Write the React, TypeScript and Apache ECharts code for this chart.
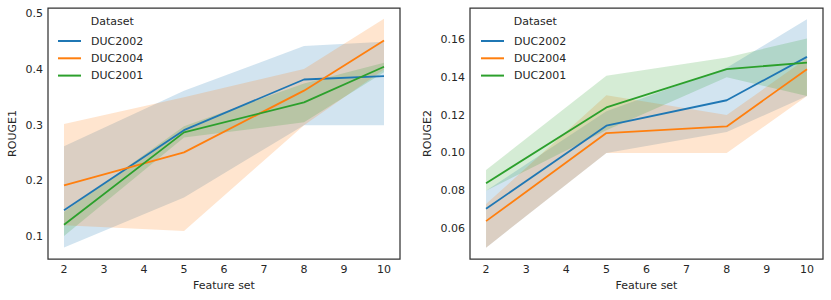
import React, { useEffect, useRef } from "react";
import * as echarts from "echarts";

// Feature sets (x values)
const featureSets = [2, 5, 8, 10];
const xTicks = [2, 3, 4, 5, 6, 7, 8, 9, 10];
const datasets = ["DUC2002", "DUC2004", "DUC2001"];
const colors = ["#1f77b4", "#ff7f0e", "#2ca02c"];

// ROUGE1 (left panel)
const r1Duc2002 = [0.147, 0.291, 0.382, 0.388];
const r1Duc2002Lo = [0.08, 0.17, 0.3, 0.3];
const r1Duc2002Hi = [0.262, 0.362, 0.442, 0.45];
const r1Duc2004 = [0.192, 0.251, 0.362, 0.452];
const r1Duc2004Lo = [0.12, 0.11, 0.3, 0.4];
const r1Duc2004Hi = [0.302, 0.35, 0.401, 0.491];
const r1Duc2001 = [0.121, 0.287, 0.341, 0.405];
const r1Duc2001Lo = [0.101, 0.278, 0.305, 0.395];
const r1Duc2001Hi = [0.144, 0.298, 0.375, 0.412];
const r1Ticks = [0.1, 0.2, 0.3, 0.4, 0.5];

// ROUGE2 (right panel)
const r2Duc2002 = [0.0705, 0.1144, 0.1278, 0.1507];
const r2Duc2002Lo = [0.05, 0.1, 0.111, 0.13];
const r2Duc2002Hi = [0.08, 0.122, 0.145, 0.1705];
const r2Duc2004 = [0.064, 0.1105, 0.114, 0.1442];
const r2Duc2004Lo = [0.05, 0.1, 0.1, 0.13];
const r2Duc2004Hi = [0.073, 0.1305, 0.12, 0.15];
const r2Duc2001 = [0.084, 0.124, 0.1442, 0.1477];
const r2Duc2001Lo = [0.08, 0.112, 0.14, 0.13];
const r2Duc2001Hi = [0.091, 0.1407, 0.1504, 0.1604];
const r2Ticks = [0.06, 0.08, 0.1, 0.12, 0.14, 0.16];

const panels = [
  {
    name: "ROUGE1",
    lines: [r1Duc2002, r1Duc2004, r1Duc2001],
    lows: [r1Duc2002Lo, r1Duc2004Lo, r1Duc2001Lo],
    highs: [r1Duc2002Hi, r1Duc2004Hi, r1Duc2001Hi],
    ticks: r1Ticks,
    digits: 1,
    min: 0.0595,
    max: 0.5105,
    nameGap: 30,
  },
  {
    name: "ROUGE2",
    lines: [r2Duc2002, r2Duc2004, r2Duc2001],
    lows: [r2Duc2002Lo, r2Duc2004Lo, r2Duc2001Lo],
    highs: [r2Duc2002Hi, r2Duc2004Hi, r2Duc2001Hi],
    ticks: r2Ticks,
    digits: 2,
    min: 0.044,
    max: 0.1765,
    nameGap: 37,
  },
];

const TEXT = "#262626";
const FONT = "DejaVu Sans";

export default function App() {
  const ref = useRef<HTMLDivElement>(null);

  useEffect(() => {
    if (!ref.current) return;
    const chart = echarts.init(ref.current, undefined, { renderer: "svg" });

    const grids = [
      { left: 48, top: 8, width: 352, height: 251 },
      { left: 470, top: 8, width: 353, height: 251 },
    ];

    const xAxes: any[] = [];
    const yAxes: any[] = [];
    const series: any[] = [];
    const legends: any[] = [];
    const titles: any[] = [];

    panels.forEach((p, gi) => {
      xAxes.push({
        type: "value",
        gridIndex: gi,
        min: 1.6,
        max: 10.4,
        name: "Feature set",
        nameLocation: "middle",
        nameGap: 20,
        nameTextStyle: { color: TEXT, fontSize: 11, fontFamily: FONT },
        axisLine: { show: false },
        axisTick: { show: false },
        splitLine: { show: false },
        axisLabel: {
          customValues: xTicks,
          color: TEXT,
          fontSize: 11,
          fontFamily: FONT,
          margin: 5,
          formatter: (v: number) => String(v),
        },
      });
      yAxes.push({
        type: "value",
        gridIndex: gi,
        min: p.min,
        max: p.max,
        name: p.name,
        nameLocation: "middle",
        nameGap: p.nameGap,
        nameTextStyle: { color: TEXT, fontSize: 11, fontFamily: FONT },
        axisLine: { show: false },
        axisTick: { show: false },
        splitLine: { show: false },
        axisLabel: {
          customValues: p.ticks,
          color: TEXT,
          fontSize: 11,
          fontFamily: FONT,
          margin: 5,
          formatter: (v: number) => v.toFixed(p.digits),
        },
      });

      // confidence bands (one polygon per dataset)
      datasets.forEach((ds, di) => {
        const lo = p.lows[di];
        const hi = p.highs[di];
        series.push({
          type: "custom",
          name: `${ds} CI ${gi}`,
          xAxisIndex: gi,
          yAxisIndex: gi,
          silent: true,
          z: 1,
          encode: { x: 0, y: [1, 2] },
          data: featureSets.map((x, i) => [x, lo[i], hi[i]]),
          renderItem: (params: any, api: any) => {
            if (params.dataIndex !== 0) return null;
            const upper = featureSets.map((x, i) => api.coord([x, hi[i]]));
            const lower = featureSets
              .map((x, i) => api.coord([x, lo[i]]))
              .reverse();
            return {
              type: "polygon",
              shape: { points: upper.concat(lower) },
              style: { fill: colors[di], opacity: 0.2 },
              silent: true,
            };
          },
        });
      });
      // mean lines
      datasets.forEach((ds, di) => {
        series.push({
          type: "line",
          name: ds,
          xAxisIndex: gi,
          yAxisIndex: gi,
          symbol: "none",
          color: colors[di],
          lineStyle: { color: colors[di], width: 1.8 },
          data: featureSets.map((x, i) => [x, p.lines[di][i]]),
          z: 3,
        });
      });

      const lx = gi === 0 ? 58 : 481;
      legends.push({
        orient: "vertical",
        left: lx,
        top: 34,
        padding: 0,
        itemWidth: 23,
        itemHeight: 2,
        itemGap: 3.3,
        icon: "rect",
        selectedMode: false,
        data: datasets,
        textStyle: {
          color: TEXT,
          fontSize: 11,
          fontFamily: FONT,
          lineHeight: 14,
          padding: [0, 0, 0, 5],
        },
      });
      titles.push({
        text: "Dataset",
        left: lx + 32.7,
        top: 16,
        padding: 0,
        textStyle: { color: TEXT, fontSize: 11, fontFamily: FONT, fontWeight: "normal" },
      });
    });

    chart.setOption({
      animation: false,
      backgroundColor: "#ffffff",
      title: titles,
      legend: legends,
      grid: grids.map((g) => ({
        ...g,
        show: true,
        borderColor: "#333333",
        borderWidth: 1.25,
        backgroundColor: "transparent",
      })),
      xAxis: xAxes,
      yAxis: yAxes,
      series,
    });

    return () => chart.dispose();
  }, []);

  return (
    <div
      ref={ref}
      style={{ position: "fixed", left: 0, top: 0, width: 831, height: 300 }}
    />
  );
}
